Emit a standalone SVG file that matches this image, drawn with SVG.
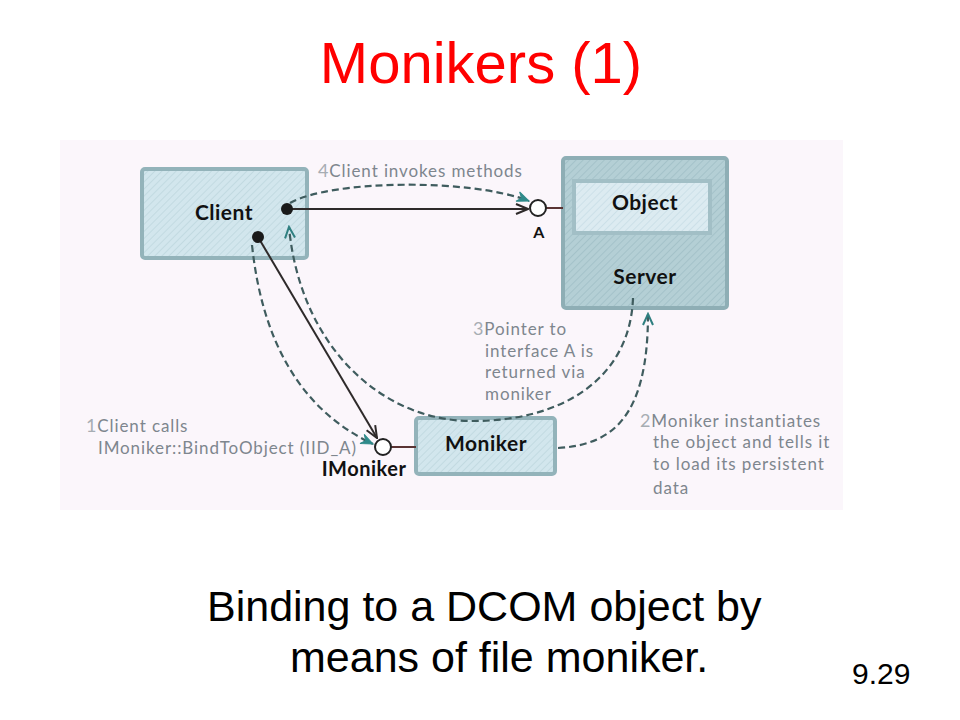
<svg xmlns="http://www.w3.org/2000/svg" width="960" height="720" viewBox="0 0 960 720">
<style>
.title{font-family:"Liberation Sans",Arial,sans-serif;font-size:58px;fill:#ff0000}
.cap{font-family:"Liberation Sans",Arial,sans-serif;font-size:43px;fill:#000}
.num{font-family:"Liberation Sans",Arial,sans-serif;font-size:30px;fill:#000}
.lbl{font-family:Lato,"Open Sans",sans-serif;font-size:17px;letter-spacing:0.9px;fill:#7e868e}
.n{fill:#a7adb3;font-size:18px}
.node{font-family:Lato,"Open Sans",sans-serif;font-size:21px;letter-spacing:0.5px;font-weight:bold;fill:#111}
.iface{font-family:Lato,"Open Sans",sans-serif;font-size:20px;letter-spacing:0.5px;font-weight:bold;fill:#111}
.dash{fill:none;stroke:#3f5c5e;stroke-width:2.2;stroke-dasharray:7 4}
.solid{fill:none;stroke:#2e2a2a;stroke-width:2}
.stub{fill:none;stroke:#5a3434;stroke-width:2}
.ring{fill:#fff;stroke:#222;stroke-width:2}
.dot{fill:#1a1a1a}
</style>
<defs>
<pattern id="hatchL" width="5" height="5" patternUnits="userSpaceOnUse" patternTransform="rotate(45)">
<rect width="5" height="5" fill="#d2e6ed"/>
<line x1="0" y1="0" x2="0" y2="5" stroke="#bdd6de" stroke-width="1.5"/>
</pattern>
<pattern id="hatchD" width="5" height="5" patternUnits="userSpaceOnUse" patternTransform="rotate(45)">
<rect width="5" height="5" fill="#b4cfd5"/>
<line x1="0" y1="0" x2="0" y2="5" stroke="#9fbec5" stroke-width="1.5"/>
</pattern>
<pattern id="hatchO" width="5" height="5" patternUnits="userSpaceOnUse" patternTransform="rotate(45)">
<rect width="5" height="5" fill="#dcebf1"/>
<line x1="0" y1="0" x2="0" y2="5" stroke="#c7dde5" stroke-width="1.5"/>
</pattern>
<marker id="arrS" markerUnits="userSpaceOnUse" markerWidth="14" markerHeight="12" refX="13" refY="6" orient="auto">
<path d="M1,1 L13,6 L1,11" fill="none" stroke="#2e2a2a" stroke-width="2"/>
</marker>
<marker id="arrT" markerUnits="userSpaceOnUse" markerWidth="14" markerHeight="12" refX="13" refY="6" orient="auto">
<path d="M1,1 L13,6 L1,11 L5,6 Z" fill="#2f8a8a" stroke="#2f8a8a" stroke-width="1"/>
</marker>
<marker id="arrV" markerUnits="userSpaceOnUse" markerWidth="14" markerHeight="12" refX="12" refY="6" orient="auto">
<path d="M1,1 L12,6 L1,11" fill="none" stroke="#2f7f80" stroke-width="2"/>
</marker>
</defs>

<rect width="960" height="720" fill="#fff"/>
<text class="title" x="481" y="83" text-anchor="middle">Monikers (1)</text>

<rect x="60" y="140" width="783" height="370" fill="#fbf6fb"/>

<g id="client">
<rect x="142" y="169" width="165" height="89" rx="3" fill="url(#hatchL)" stroke="#93b3ba" stroke-width="4"/>
<text class="node" x="224" y="220" text-anchor="middle">Client</text>
</g>

<g id="server">
<rect x="563" y="158" width="164" height="150" rx="3" fill="url(#hatchD)" stroke="#8eaeb5" stroke-width="4"/>
<rect x="574" y="181" width="136" height="52" fill="url(#hatchO)" stroke="#a2bfc6" stroke-width="4"/>
<text class="node" x="645" y="210" text-anchor="middle">Object</text>
<text class="node" x="645" y="284" text-anchor="middle">Server</text>
</g>

<g id="moniker">
<rect x="416" y="418" width="139" height="56" rx="3" fill="url(#hatchL)" stroke="#93b3ba" stroke-width="4"/>
<text class="node" x="486" y="451" text-anchor="middle">Moniker</text>
</g>

<g id="interfaceA">
<line class="stub" x1="546" y1="208" x2="563" y2="208"/>
<circle class="ring" cx="538" cy="208" r="8"/>
<text class="iface" x="539" y="238" text-anchor="middle" style="font-size:16px">A</text>
</g>

<g id="interfaceIMoniker">
<line class="stub" x1="391" y1="447" x2="416" y2="447"/>
<circle class="ring" cx="383" cy="447" r="8"/>
<text class="iface" x="364" y="476" text-anchor="middle">IMoniker</text>
</g>

<g id="connectors">
<path class="solid" d="M287,209 L528,209" marker-end="url(#arrS)"/>
<path class="solid" d="M258,237 L377,438" marker-end="url(#arrS)"/>
<path class="dash" d="M290,203 C330,180 470,178 529,201" marker-end="url(#arrT)"/>
<path class="dash" d="M252,245 C262,340 300,410 373,444" marker-end="url(#arrT)"/>
<path class="dash" d="M633,298 C630,380 560,422 470,421 C380,420 300,345 289,227" marker-end="url(#arrV)"/>
<path class="dash" d="M558,448 C610,445 648,420 648,314" marker-end="url(#arrV)"/>
<circle class="dot" cx="287" cy="209" r="6"/>
<circle class="dot" cx="258" cy="237" r="6"/>
</g>

<g id="labels">
<text class="lbl" x="318" y="177"><tspan class="n">4</tspan>Client invokes methods</text>
<text class="lbl" x="473" y="335"><tspan class="n">3</tspan>Pointer to</text>
<text class="lbl" x="485" y="357">interface A is</text>
<text class="lbl" x="485" y="378">returned via</text>
<text class="lbl" x="485" y="400">moniker</text>
<text class="lbl" x="640" y="427"><tspan class="n">2</tspan>Moniker instantiates</text>
<text class="lbl" x="653" y="448">the object and tells it</text>
<text class="lbl" x="653" y="470">to load its persistent</text>
<text class="lbl" x="653" y="494">data</text>
<text class="lbl" x="86" y="432"><tspan class="n">1</tspan>Client calls</text>
<text class="lbl" x="98" y="454">IMoniker::BindToObject (IID_A)</text>
</g>

<text class="cap" x="207" y="621">Binding to a DCOM object by</text>
<text class="cap" x="290" y="672">means of file moniker.</text>
<text class="num" x="852" y="684">9.29</text>
</svg>
